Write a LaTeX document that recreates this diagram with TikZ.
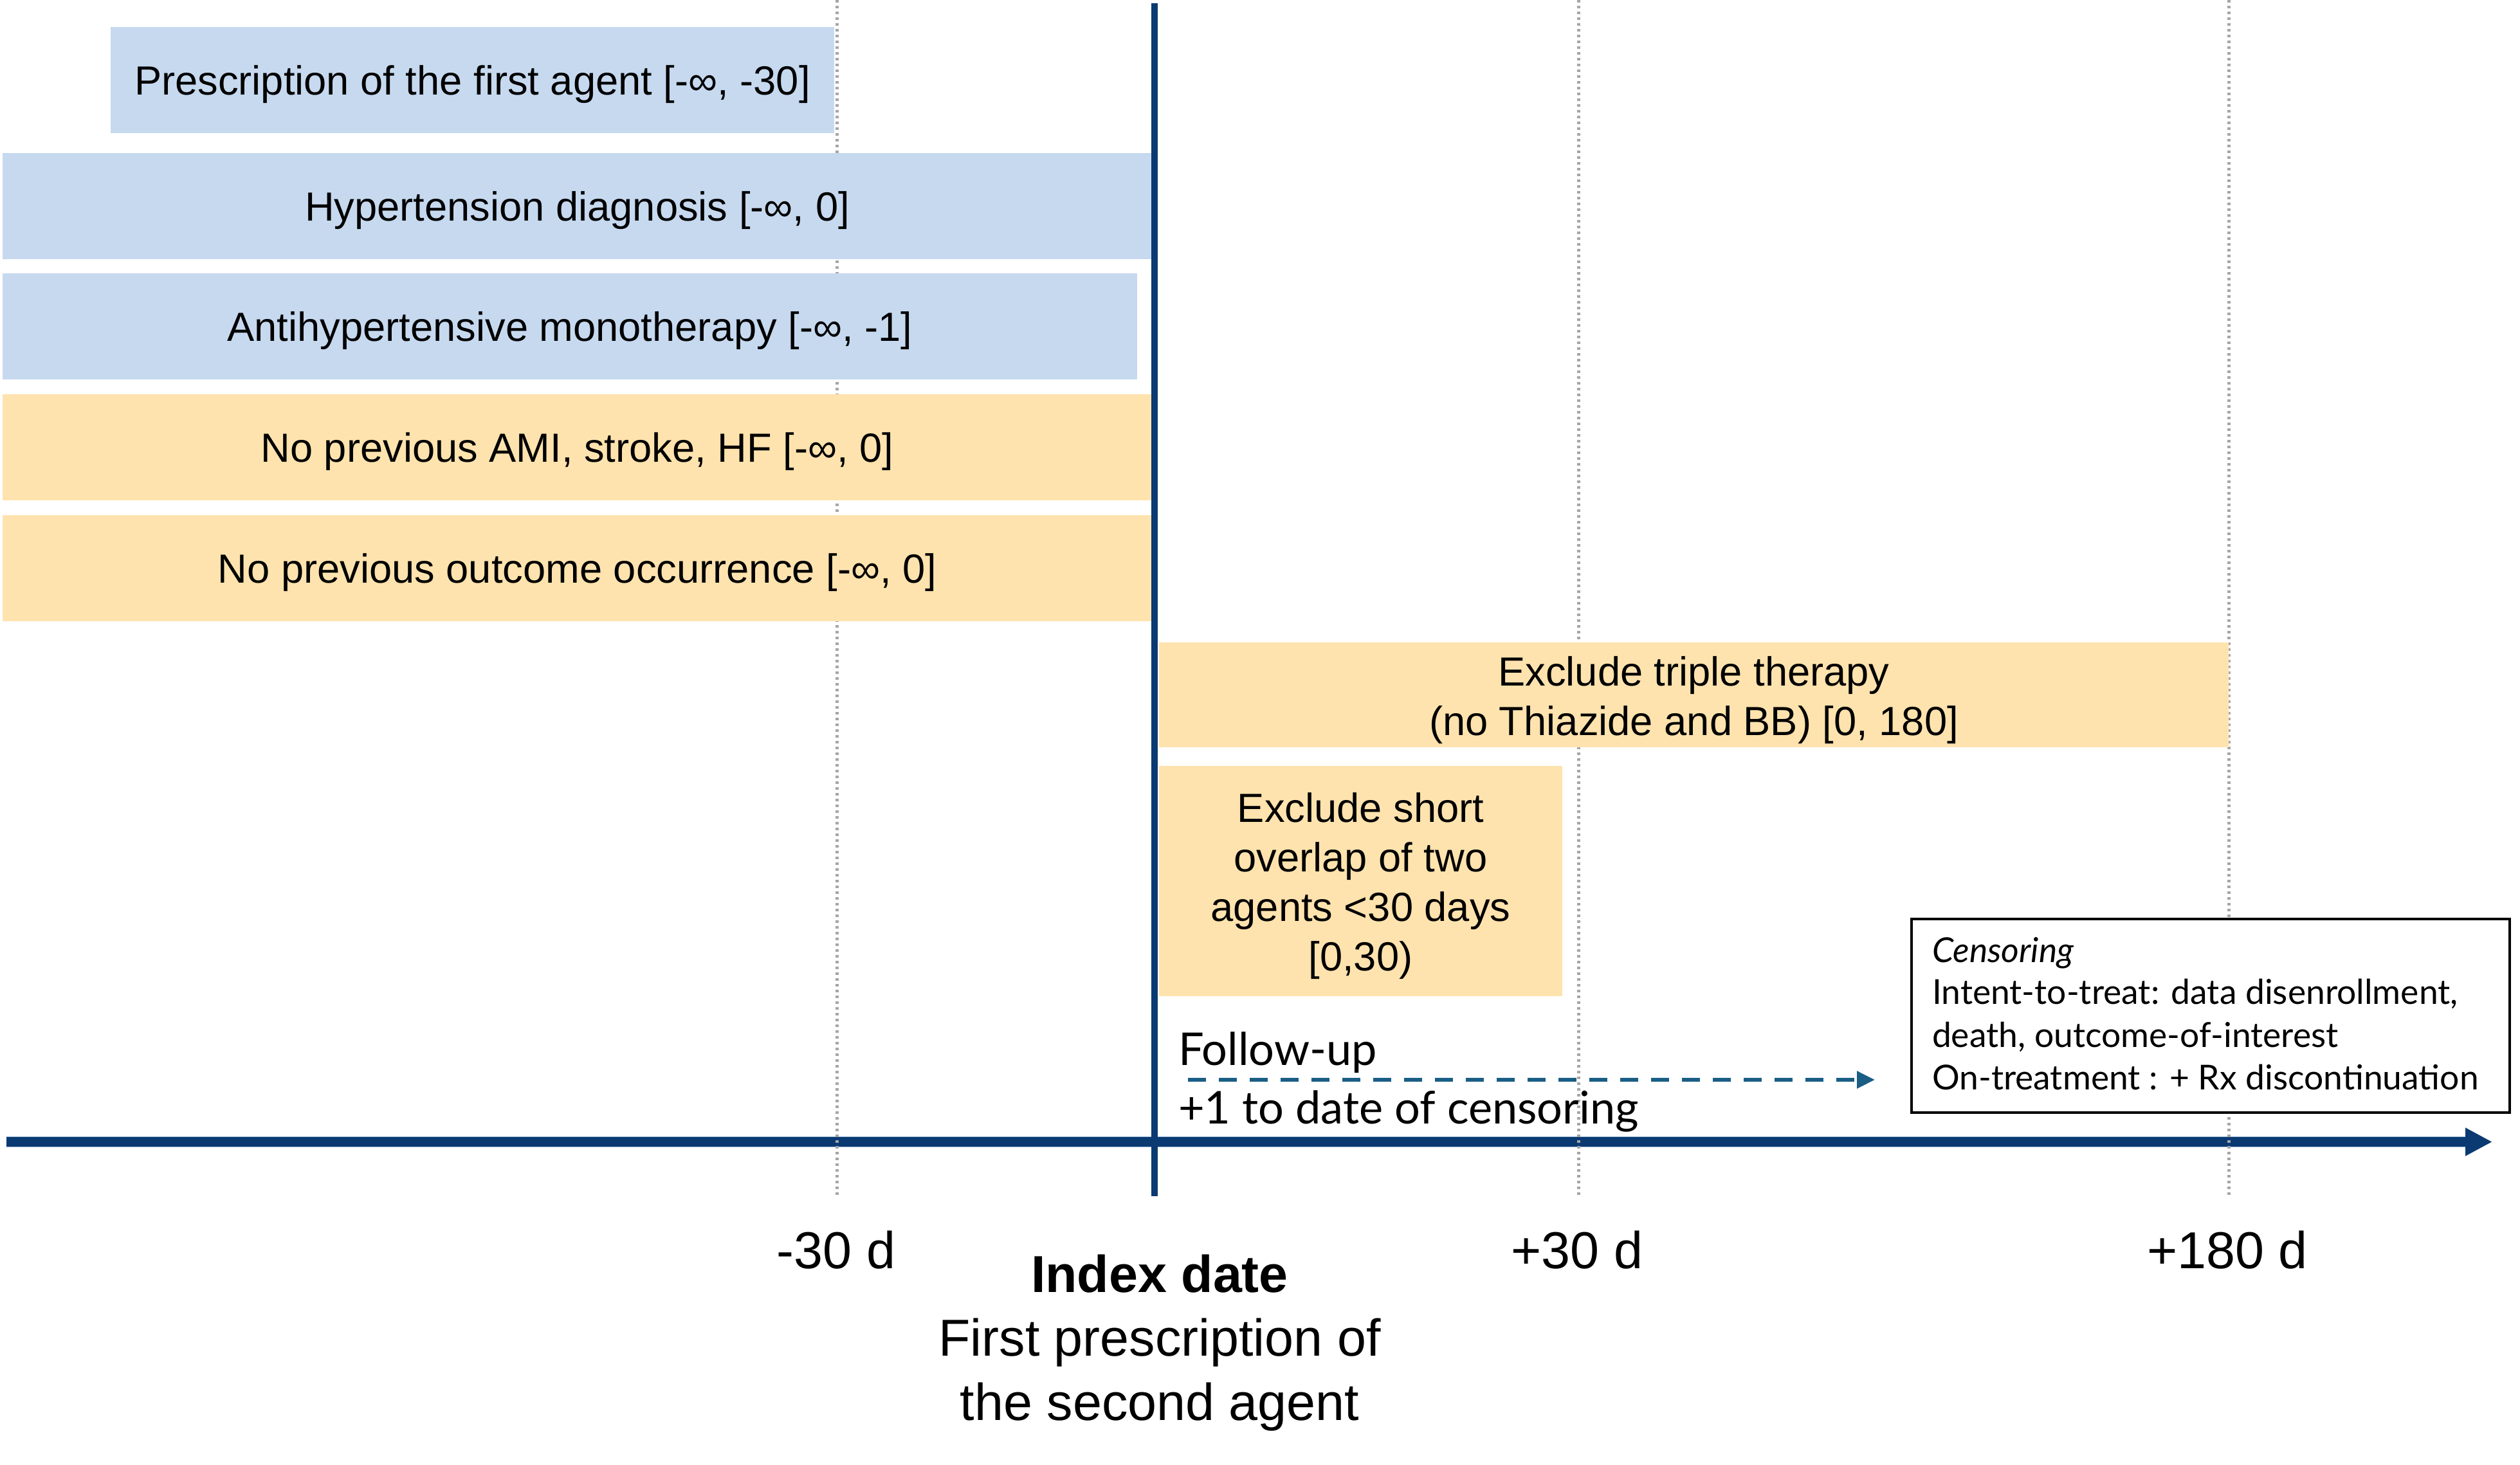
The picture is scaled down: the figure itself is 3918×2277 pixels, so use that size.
\documentclass[tikz,border=0pt]{standalone}
\usepackage{fontspec}
\setmainfont{Liberation Sans}
\newfontfamily\aptos{Lato}
\usetikzlibrary{arrows.meta,calc}
\definecolor{boxblue}{HTML}{C6D9EF}
\definecolor{boxorange}{HTML}{FFE3AE}
\definecolor{navy}{HTML}{0B3A72}
\definecolor{tealarrow}{HTML}{1B5E85}
\definecolor{gridgray}{HTML}{A6A6A6}
\definecolor{axedge}{HTML}{A9C0E0}
\begin{document}
\begin{tikzpicture}[x=0.1mm,y=-0.1mm,
  every node/.style={inner sep=0pt, outer sep=0pt},
  box/.style={anchor=north west},
  bluebox/.style={box, fill=boxblue},
  orbox/.style={box, fill=boxorange},
  boxtext/.style={align=center, font=\fontsize{18}{21.9}\selectfont},
  gridline/.style={draw=gridgray, line width=0.5mm, dash pattern=on 0.4mm off 0.5mm},
  ticklabel/.style={anchor=base, font=\fontsize{23}{28}\selectfont},
  cens/.style={anchor=base west, font=\aptos\fontsize{15.2}{18}\selectfont},
  fulabel/.style={anchor=base west, font=\aptos\fontsize{20}{24}\selectfont},
]
\useasboundingbox (0,0) rectangle (3918,2277);

% axis
\coordinate (axL) at (10,1775.5);
\coordinate (axR) at (3875,1775.5);
\draw[line width=1.7mm, axedge] (axL) -- ($(axR)+(-42,0)$);
\draw[line width=1.5mm, navy, -{Triangle[length=4.2mm,width=4.1mm]}] (axL) -- (axR);

% grid lines
\coordinate (g1t) at (1301,0);  \coordinate (g1b) at (1301,1860);
\coordinate (g2t) at (2454,0);  \coordinate (g2b) at (2454,1860);
\coordinate (g3t) at (3465,0);  \coordinate (g3b) at (3465,1860);
\draw[gridline] (g1t) -- (g1b);
\draw[gridline] (g2t) -- (g2b);
\draw[gridline] (g3t) -- (g3b);

% boxes
\node[bluebox, minimum width=112.5mm, minimum height=16.5mm] (b1) at (172,42) {};
\node[bluebox, minimum width=178.7mm, minimum height=16.5mm] (b2) at (4,238) {};
\node[bluebox, minimum width=176.4mm, minimum height=16.5mm] (b3) at (4,425) {};
\node[orbox, minimum width=178.7mm, minimum height=16.5mm] (b4) at (4,613) {};
\node[orbox, minimum width=178.7mm, minimum height=16.5mm] (b5) at (4,801) {};
\node[orbox, minimum width=166.3mm, minimum height=16.3mm] (b6) at (1802,999) {};
\node[orbox, minimum width=62.7mm, minimum height=35.8mm] (b7) at (1802,1191) {};

\node[boxtext] (b1t) at ($(b1.center)+(0,7)$) {Prescription of the first agent [-∞, -30]};
\node[boxtext] (b2t) at ($(b2.center)+(0,7)$) {Hypertension diagnosis [-∞, 0]};
\node[boxtext] (b3t) at ($(b3.center)+(0,7)$) {Antihypertensive monotherapy [-∞, -1]};
\node[boxtext] (b4t) at ($(b4.center)+(0,7)$) {No previous AMI, stroke, HF [-∞, 0]};
\node[boxtext] (b5t) at ($(b5.center)+(0,7)$) {No previous outcome occurrence [-∞, 0]};
\node[boxtext] (b6t) at ($(b6.center)+(0,8)$) {Exclude triple therapy\\(no Thiazide and BB) [0, 180]};
\node[boxtext] (b7t) at ($(b7.center)+(0,8)$) {Exclude short\\overlap of two\\agents <30 days\\{[0,30)}};

% index line
\coordinate (ixT) at (1795,5);
\coordinate (ixB) at (1795,1860);
\draw[navy, line width=1mm] (ixT) -- (ixB);

% censoring box
\node[draw=black, line width=0.35mm, fill=white, minimum width=93mm, minimum height=30.1mm, anchor=north west] (cb) at (2972,1429) {};
\node[cens] (c1) at (3004,1496) {\itshape Censoring};
\node[cens] (c2) at (3004,1561) {Intent-to-treat: data disenrollment,};
\node[cens] (c3) at (3004,1628) {death, outcome-of-interest};
\node[cens] (c4) at (3004,1694) {On-treatment : + Rx discontinuation};

% follow-up
\node[fulabel] (fu) at (1832,1656) {Follow-up};
\node[fulabel] (fd) at (1832,1747) {+1 to date of censoring};
\coordinate (fuA) at (1847,1679);
\coordinate (fuB) at (2915,1679);
\draw[tealarrow, line width=0.6mm, dash pattern=on 2.8mm off 2mm, -{Triangle[length=2.8mm,width=2.6mm]}] (fuA) -- (fuB);

% tick labels
\node[ticklabel] (t1) at (1300,1972) {-30 d};
\node[ticklabel] (t2) at (2452,1972) {+30 d};
\node[ticklabel] (t3) at (3463,1972) {+180 d};
\node[ticklabel, font=\bfseries\fontsize{23}{28}\selectfont] (i1) at (1803,2009) {Index date};
\node[ticklabel] (i2) at (1803,2108) {First prescription of};
\node[ticklabel] (i3) at (1803,2208) {the second agent};
\end{tikzpicture}
\end{document}
